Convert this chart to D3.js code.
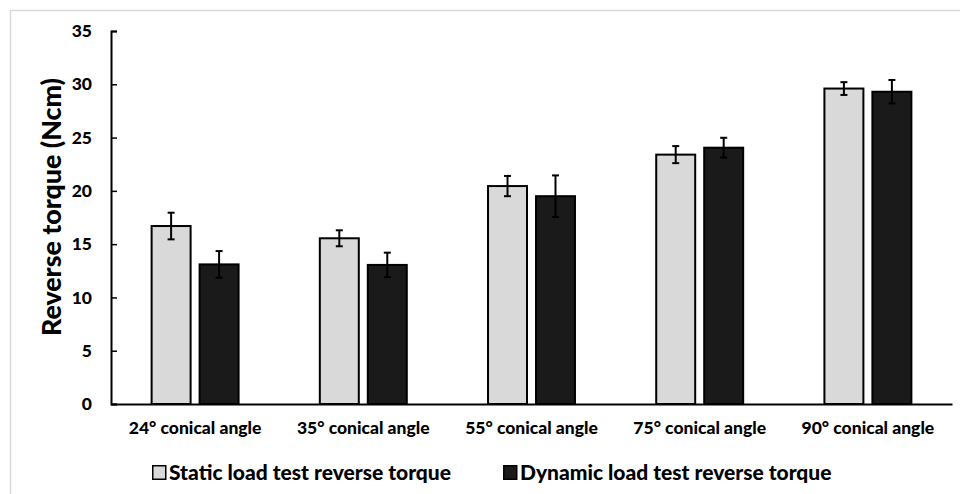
<!DOCTYPE html>
<html>
<head>
<meta charset="utf-8">
<script src="https://cdn.jsdelivr.net/npm/d3@7"></script>
<style>
  body { margin: 0; background: #fff; }
  svg { display: block; }
  text { font-family: Lato, "Open Sans", sans-serif; font-weight: 900; fill: #000; }
</style>
</head>
<body>
<svg id="chart" width="960" height="494"></svg>
<script>
// Reverse torque by conical angle, mean ± SD
const categories = ["24° conical angle", "35° conical angle", "55° conical angle", "75° conical angle", "90° conical angle"];
const seriesNames = ["Static load test reverse torque", "Dynamic load test reverse torque"];
const staticMeans = [16.7, 15.55, 20.45, 23.4, 29.6];
const staticSD = [1.25, 0.75, 0.95, 0.8, 0.6];
const dynamicMeans = [13.1, 13.05, 19.5, 24.05, 29.3];
const dynamicSD = [1.25, 1.15, 1.95, 0.93, 1.1];
const yTicks = [0, 5, 10, 15, 20, 25, 30, 35];
const yTitle = "Reverse torque (Ncm)";
const seriesColors = ["#d9d9d9", "#1a1a1a"];

const svg = d3.select("#chart");

// outer chart-area frame (only the top and left edges fall inside the view)
svg.append("rect")
  .attr("x", 10.5).attr("y", 10.5)
  .attr("width", 1000).attr("height", 1000)
  .attr("fill", "none").attr("stroke", "#d9d9d9").attr("stroke-width", 1.5);

const plot = { left: 111, right: 952, top: 31, bottom: 404 };

const y = d3.scaleLinear().domain([0, 35]).range([plot.bottom, plot.top]);
const x0 = d3.scaleBand().domain(categories).range([plot.left, plot.right])
  .paddingInner(0.483).paddingOuter(0.2415);
const x1 = d3.scaleBand().domain(seriesNames).range([0, x0.bandwidth()])
  .paddingInner(0.1875).paddingOuter(0);

const rows = categories.map((c, i) => [
  { cat: c, series: seriesNames[0], value: staticMeans[i], sd: staticSD[i], color: seriesColors[0] },
  { cat: c, series: seriesNames[1], value: dynamicMeans[i], sd: dynamicSD[i], color: seriesColors[1] }
]).flat();

// bars
const g = svg.append("g");
g.selectAll("rect.bar").data(rows).join("rect")
  .attr("class", "bar")
  .attr("x", d => x0(d.cat) + x1(d.series))
  .attr("y", d => y(d.value))
  .attr("width", x1.bandwidth())
  .attr("height", d => y(0) - y(d.value))
  .attr("fill", d => d.color)
  .attr("stroke", "#000")
  .attr("stroke-width", 2);

// error bars
const capHalf = 3.5;
const eb = g.selectAll("g.err").data(rows).join("g").attr("class", "err")
  .attr("transform", d => `translate(${x0(d.cat) + x1(d.series) + x1.bandwidth() / 2},0)`);
eb.append("line")
  .attr("y1", d => y(d.value + d.sd)).attr("y2", d => y(d.value - d.sd))
  .attr("stroke", "#000").attr("stroke-width", 2);
eb.append("line")
  .attr("x1", -capHalf).attr("x2", capHalf)
  .attr("y1", d => y(d.value + d.sd)).attr("y2", d => y(d.value + d.sd))
  .attr("stroke", "#000").attr("stroke-width", 2);
eb.append("line")
  .attr("x1", -capHalf).attr("x2", capHalf)
  .attr("y1", d => y(d.value - d.sd)).attr("y2", d => y(d.value - d.sd))
  .attr("stroke", "#000").attr("stroke-width", 2);

// y axis with inside ticks
const yAxis = svg.append("g")
  .attr("transform", `translate(${plot.left},0)`)
  .call(d3.axisLeft(y).tickValues(yTicks).tickSize(-6).tickSizeOuter(-6).tickPadding(19));
yAxis.select(".domain").attr("stroke", "#000").attr("stroke-width", 2);
yAxis.selectAll(".tick line").attr("stroke", "#000").attr("stroke-width", 1.5);
yAxis.selectAll(".tick text")
  .style("font-size", "17.5px").attr("font-family", null).attr("fill", "#000");

// x axis
const xAxis = svg.append("g")
  .attr("transform", `translate(0,${plot.bottom})`)
  .call(d3.axisBottom(x0).tickSize(0).tickSizeOuter(0).tickPadding(18));
xAxis.select(".domain").attr("stroke", "#000").attr("stroke-width", 2);
xAxis.selectAll(".tick text")
  .style("font-size", "17.5px").attr("font-family", null).attr("fill", "#000");

// y axis title
svg.append("text")
  .attr("transform", `translate(61,207) rotate(-90)`)
  .attr("text-anchor", "middle")
  .style("font-size", "26.8px")
  .text(yTitle);

// legend
const legendItems = [
  { name: seriesNames[0], color: seriesColors[0], x: 152 },
  { name: seriesNames[1], color: seriesColors[1], x: 503 }
];
const lg = svg.append("g").selectAll("g").data(legendItems).join("g")
  .attr("transform", d => `translate(${d.x},465)`);
lg.append("rect")
  .attr("x", 0.75).attr("y", 0.75).attr("width", 13).attr("height", 13.5)
  .attr("fill", d => d.color).attr("stroke", "#000").attr("stroke-width", 1.5);
lg.append("text")
  .attr("x", 17).attr("y", 14.5)
  .style("font-size", "21px")
  .text(d => d.name);
</script>
</body>
</html>
